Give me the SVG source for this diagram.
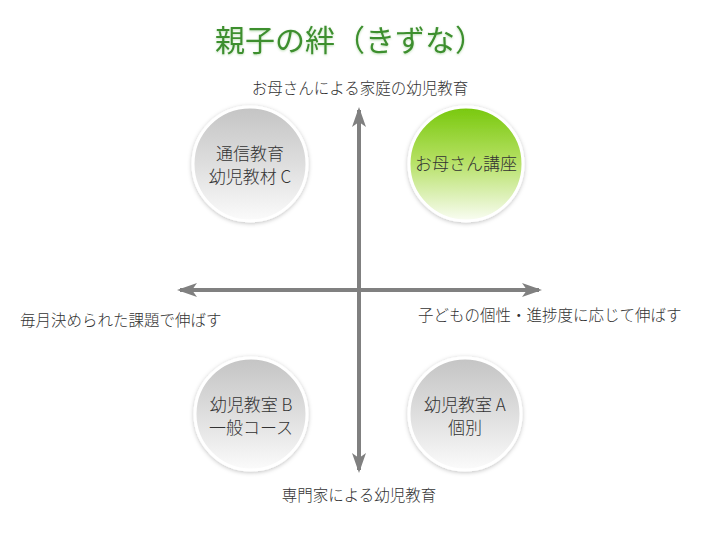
<svg xmlns="http://www.w3.org/2000/svg" width="720" height="540" viewBox="0 0 720 540">
<defs>
<style>
text{font-family:"Noto Sans CJK JP","Liberation Sans",sans-serif;font-weight:300;}
.title{font-size:30px;fill:#3d8f2e;font-weight:400;}
.lab{font-size:15.5px;fill:#333;}
.nt{font-size:17px;fill:#333;text-anchor:middle;}
.ax{stroke:#808080;stroke-width:4;fill:none;}
.ball{stroke:#fff;stroke-width:3;filter:url(#sh);}
</style>
<linearGradient id="gGray" x1="0" y1="0" x2="0" y2="1">
<stop offset="0" stop-color="#c4c4c4"/>
<stop offset="0.5" stop-color="#dedede"/>
<stop offset="1" stop-color="#fbfbfb"/>
</linearGradient>
<linearGradient id="gGreen" x1="0" y1="0" x2="0" y2="1">
<stop offset="0" stop-color="#78c80c"/>
<stop offset="0.45" stop-color="#b2df5e"/>
<stop offset="1" stop-color="#fafdf4"/>
</linearGradient>
<filter id="sh" x="-20%" y="-20%" width="140%" height="140%">
<feDropShadow dx="0" dy="1" stdDeviation="2" flood-color="#000" flood-opacity="0.25"/>
</filter>
<filter id="tsh" x="-10%" y="-30%" width="120%" height="160%">
<feDropShadow dx="0" dy="1" stdDeviation="1.2" flood-color="#7fbf6f" flood-opacity="0.5"/>
</filter>
<marker id="ah" viewBox="0 0 20 14" refX="17" refY="7" markerWidth="20" markerHeight="14" markerUnits="userSpaceOnUse" orient="auto">
<path d="M0,0 L20,7 L0,14 L5,7 Z" fill="#808080"/>
</marker>
</defs>
<rect width="720" height="540" fill="#fff"/>
<text class="title" x="350" y="51" text-anchor="middle" filter="url(#tsh)">親子の絆（きずな）</text>

<g id="connectors">
<line class="ax" x1="359" y1="470" x2="359" y2="110" marker-end="url(#ah)"/>
<line class="ax" x1="359" y1="300" x2="359" y2="470" marker-end="url(#ah)"/>
<line class="ax" x1="359" y1="290" x2="180" y2="290" marker-end="url(#ah)"/>
<line class="ax" x1="359" y1="290" x2="539" y2="290" marker-end="url(#ah)"/>
</g>

<g id="label-top"><text class="lab" x="360" y="94" text-anchor="middle">お母さんによる家庭の幼児教育</text></g>
<g id="label-bottom"><text class="lab" x="359" y="501" text-anchor="middle">専門家による幼児教育</text></g>
<g id="label-left"><text class="lab" x="20" y="326">毎月決められた課題で伸ばす</text></g>
<g id="label-right"><text class="lab" x="418" y="321">子どもの個性・進捗度に応じて伸ばす</text></g>

<g id="node-c">
<circle class="ball" cx="250" cy="164" r="57" fill="url(#gGray)"/>
<text class="nt" x="250" y="160">通信教育</text>
<text class="nt" x="250" y="183">幼児教材 C</text>
</g>
<g id="node-mother">
<circle class="ball" cx="466" cy="164" r="57" fill="url(#gGreen)"/>
<text class="nt" x="466" y="170">お母さん講座</text>
</g>
<g id="node-b">
<circle class="ball" cx="251" cy="414" r="56" fill="url(#gGray)"/>
<text class="nt" x="251" y="411">幼児教室 B</text>
<text class="nt" x="251" y="434">一般コース</text>
</g>
<g id="node-a">
<circle class="ball" cx="465" cy="414" r="56" fill="url(#gGray)"/>
<text class="nt" x="465" y="411">幼児教室 A</text>
<text class="nt" x="465" y="434">個別</text>
</g>
</svg>
